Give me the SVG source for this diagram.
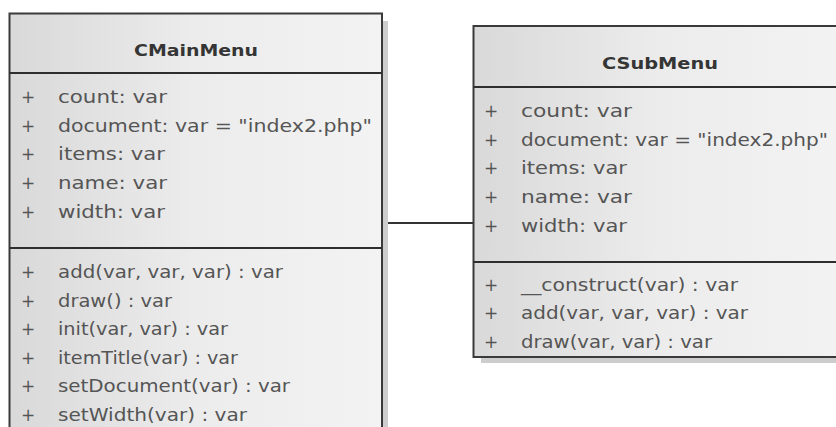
<svg xmlns="http://www.w3.org/2000/svg" width="836" height="427" viewBox="0 0 836 427">
<style>
.box{fill:url(#fill);stroke:#3a3a3a;stroke-width:2}
.sep{stroke:#2e2e2e;stroke-width:2}
.title{font-family:"DejaVu Sans","Liberation Sans",sans-serif;font-size:16px;font-weight:bold;fill:#353535}
.t{font-family:"DejaVu Sans","Liberation Sans",sans-serif;font-size:17px;fill:#555555}
.conn{stroke:#333;stroke-width:2;fill:none}
</style>
<defs>
<linearGradient id="fill" x1="0" y1="0" x2="1" y2="0">
<stop offset="0" stop-color="#d9d9d9"/>
<stop offset="0.5" stop-color="#ececec"/>
<stop offset="1" stop-color="#f3f3f3"/>
</linearGradient>
</defs>
<g id="connectors">
<line class="conn" x1="383" y1="223" x2="473" y2="223"/>
</g>
<g id="CMainMenu">
<rect x="383" y="21" width="5" height="410" fill="#cdcdcd"/>
<rect class="box" x="9.5" y="13.5" width="372.5" height="430"/>
<line class="sep" x1="9.5" y1="73" x2="382" y2="73"/>
<line class="sep" x1="9.5" y1="248" x2="382" y2="248"/>
<text class="title" x="134" y="56" textLength="124" lengthAdjust="spacingAndGlyphs">CMainMenu</text>
<g class="t">
<text x="21" y="103">+</text>
<text x="21" y="131.7">+</text>
<text x="21" y="160.4">+</text>
<text x="21" y="189.1">+</text>
<text x="21" y="217.8">+</text>
<text x="58" y="103" textLength="109" lengthAdjust="spacingAndGlyphs">count:  var</text>
<text x="58" y="131.7" textLength="314" lengthAdjust="spacingAndGlyphs">document:  var = "index2.php"</text>
<text x="58" y="160.4" textLength="107" lengthAdjust="spacingAndGlyphs">items:  var</text>
<text x="58" y="189.1" textLength="109" lengthAdjust="spacingAndGlyphs">name:  var</text>
<text x="58" y="217.8" textLength="107" lengthAdjust="spacingAndGlyphs">width:  var</text>
<text x="21" y="278">+</text>
<text x="21" y="306.5">+</text>
<text x="21" y="335">+</text>
<text x="21" y="363.5">+</text>
<text x="21" y="392">+</text>
<text x="21" y="420.5">+</text>
<text x="58" y="278" textLength="225" lengthAdjust="spacingAndGlyphs">add(var, var, var) : var</text>
<text x="58" y="306.5" textLength="114" lengthAdjust="spacingAndGlyphs">draw() : var</text>
<text x="58" y="335" textLength="170" lengthAdjust="spacingAndGlyphs">init(var, var) : var</text>
<text x="58" y="363.5" textLength="180" lengthAdjust="spacingAndGlyphs">itemTitle(var) : var</text>
<text x="58" y="392" textLength="232" lengthAdjust="spacingAndGlyphs">setDocument(var) : var</text>
<text x="58" y="420.5" textLength="189" lengthAdjust="spacingAndGlyphs">setWidth(var) : var</text>
</g>
</g>
<g id="CSubMenu">
<rect x="481" y="358" width="370" height="5" fill="#cdcdcd"/>
<rect class="box" x="473.5" y="26" width="375" height="331"/>
<line class="sep" x1="473.5" y1="87" x2="848.5" y2="87"/>
<line class="sep" x1="473.5" y1="262" x2="848.5" y2="262"/>
<text class="title" x="602" y="69" textLength="116" lengthAdjust="spacingAndGlyphs">CSubMenu</text>
<g class="t">
<text x="484" y="117">+</text>
<text x="484" y="145.7">+</text>
<text x="484" y="174.4">+</text>
<text x="484" y="203.1">+</text>
<text x="484" y="231.8">+</text>
<text x="521" y="117" textLength="111" lengthAdjust="spacingAndGlyphs">count:  var</text>
<text x="521" y="145.7" textLength="307" lengthAdjust="spacingAndGlyphs">document:  var = "index2.php"</text>
<text x="521" y="174.4" textLength="106" lengthAdjust="spacingAndGlyphs">items:  var</text>
<text x="521" y="203.1" textLength="111" lengthAdjust="spacingAndGlyphs">name:  var</text>
<text x="521" y="231.8" textLength="106" lengthAdjust="spacingAndGlyphs">width:  var</text>
<text x="484" y="290.5">+</text>
<text x="484" y="319">+</text>
<text x="484" y="347.5">+</text>
<text x="521" y="290.5" textLength="217" lengthAdjust="spacingAndGlyphs">__construct(var) : var</text>
<text x="521" y="319" textLength="227" lengthAdjust="spacingAndGlyphs">add(var, var, var) : var</text>
<text x="521" y="347.5" textLength="191" lengthAdjust="spacingAndGlyphs">draw(var, var) : var</text>
</g>
</g>
</svg>
